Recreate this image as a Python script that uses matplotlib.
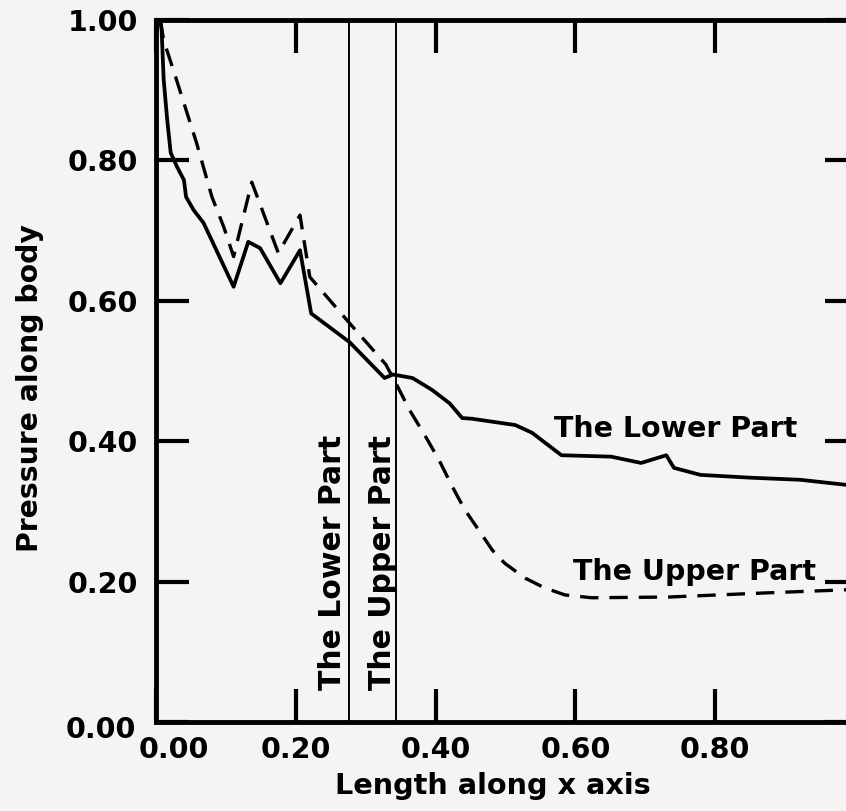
import matplotlib
matplotlib.use("Agg")
import matplotlib.pyplot as plt
import matplotlib.transforms as mtransforms

# ---- data ----
lower_x = [0.006, 0.008, 0.011, 0.016, 0.021, 0.030, 0.040, 0.043, 0.054, 0.068,
           0.111, 0.132, 0.149, 0.178, 0.206, 0.222, 0.277, 0.327, 0.339, 0.367,
           0.395, 0.420, 0.438, 0.452, 0.514, 0.538, 0.580, 0.651, 0.694, 0.730,
           0.741, 0.779, 0.851, 0.922, 1.004]
lower_y = [1.0, 0.986, 0.915, 0.858, 0.811, 0.791, 0.772, 0.748, 0.729, 0.711,
           0.620, 0.684, 0.675, 0.625, 0.672, 0.582, 0.541, 0.490, 0.495, 0.490,
           0.473, 0.454, 0.433, 0.432, 0.423, 0.412, 0.380, 0.378, 0.369, 0.380,
           0.362, 0.352, 0.348, 0.345, 0.336]

upper_x = [0.006, 0.011, 0.028, 0.058, 0.080, 0.097, 0.111, 0.137, 0.175, 0.206,
           0.220, 0.277, 0.329, 0.346, 0.363, 0.386, 0.405, 0.424, 0.442, 0.462,
           0.481, 0.499, 0.528, 0.556, 0.585, 0.623, 0.733, 0.875, 1.004]
upper_y = [1.0, 0.971, 0.919, 0.825, 0.748, 0.705, 0.663, 0.769, 0.668, 0.722,
           0.634, 0.568, 0.509, 0.477, 0.444, 0.406, 0.373, 0.335, 0.302, 0.273,
           0.245, 0.226, 0.205, 0.191, 0.181, 0.177, 0.178, 0.184, 0.189]

marker_lines_x = [0.2765, 0.343]
x_ticks = [0.0, 0.2, 0.4, 0.6, 0.8]
x_tick_labels = ["0.00", "0.20", "0.40", "0.60", "0.80"]
y_ticks = [0.0, 0.2, 0.4, 0.6, 0.8, 1.0]
y_tick_labels = ["0.00", "0.20", "0.40", "0.60", "0.80", "1.00"]

FONT = "DejaVu Sans"
FS = 20.5
BG = "#f4f4f4"

fig = plt.figure(figsize=(8.46, 8.11), dpi=100, facecolor=BG)
W, H = 846, 811
ax = fig.add_axes([156 / W, 1 - 722 / H, (858 - 156) / W, (722 - 20) / H])
ax.set_facecolor(BG)
ax.set_xlim(4 / 703, 706 / 703)
ax.set_ylim(0, 1.0)

ax.plot(lower_x, lower_y, color="black", lw=2.7, solid_joinstyle="round")
ax.plot(upper_x, upper_y, color="black", lw=2.4, linestyle=(0, (5.5, 3.3)))

for xv in marker_lines_x:
    ax.axvline(xv, color="black", lw=1.4)

for s in ax.spines.values():
    s.set_linewidth(3.5)

ax.set_xticks(x_ticks)
ax.set_xticklabels(x_tick_labels)
ax.set_yticks(y_ticks)
ax.set_yticklabels(y_tick_labels)
ax.tick_params(axis="both", direction="in", length=24, width=3,
               top=True, right=True, labelsize=FS, colors="black")
ax.tick_params(axis="x", pad=10)
ax.tick_params(axis="y", pad=13)
for lab in ax.get_xticklabels() + ax.get_yticklabels():
    lab.set_fontfamily(FONT)
    lab.set_fontweight("bold")

# shift the x-axis "0.00" label right and the y-axis "0.00" label down
off = mtransforms.ScaledTranslation(18 / 100, 0, fig.dpi_scale_trans)
xl0 = ax.get_xticklabels()[0]
xl0.set_transform(xl0.get_transform() + off)
yl0 = ax.get_yticklabels()[0]
off2 = mtransforms.ScaledTranslation(-2 / 100, -5 / 100, fig.dpi_scale_trans)
yl0.set_transform(yl0.get_transform() + off2)

# axis labels
fig.text(30 / W, 1 - 388 / H, "Pressure along body", rotation=90,
         ha="center", va="center", fontsize=20.3, fontweight="bold", family=FONT)
fig.text(493 / W, 1 - 786 / H, "Length along x axis",
         ha="center", va="center", fontsize=20.7, fontweight="bold", family=FONT)

# annotations
ax.text(0.265, 0.046, "The Lower Part", rotation=90, rotation_mode="anchor",
        ha="left", va="baseline", fontsize=21.5, fontweight="bold", family=FONT)
ax.text(0.3355, 0.046, "The Upper Part", rotation=90, rotation_mode="anchor",
        ha="left", va="baseline", fontsize=21.5, fontweight="bold", family=FONT)
ax.text(0.569, 0.406, "The Lower Part", ha="left", va="baseline",
        fontsize=FS, fontweight="bold", family=FONT)
ax.text(0.597, 0.202, "The Upper Part", ha="left", va="baseline",
        fontsize=FS, fontweight="bold", family=FONT)

fig.savefig("out.png", dpi=100, facecolor=BG)
